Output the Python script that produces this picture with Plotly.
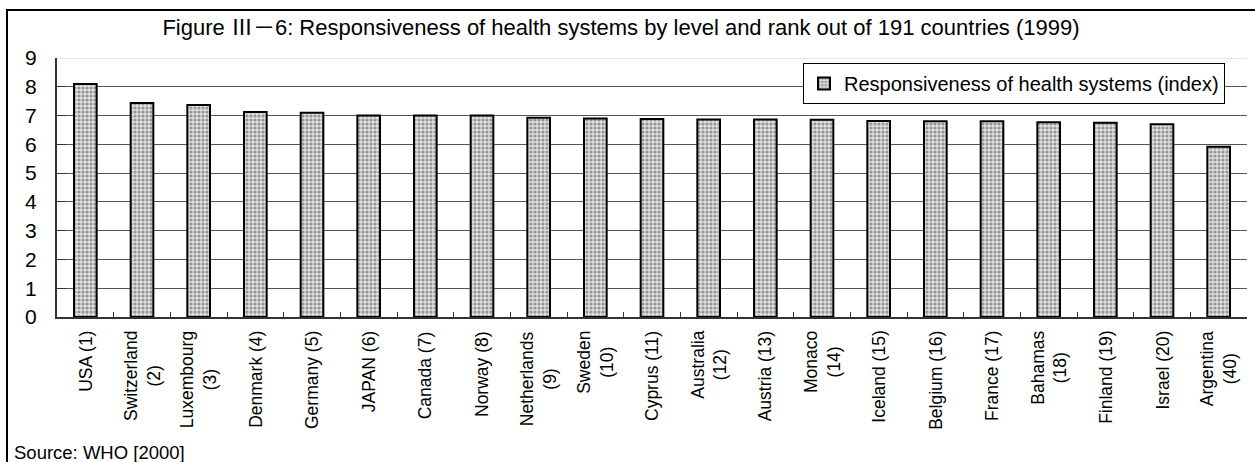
import plotly.graph_objects as go

# Countries with their responsiveness rank (out of 191)
countries = ["USA", "Switzerland", "Luxembourg", "Denmark", "Germany", "JAPAN",
             "Canada", "Norway", "Netherlands", "Sweden", "Cyprus", "Australia",
             "Austria", "Monaco", "Iceland", "Belgium", "France", "Bahamas",
             "Finland", "Israel", "Argentina"]
ranks = [1, 2, 3, 4, 5, 6, 7, 8, 9, 10, 11, 12, 13, 14, 15, 16, 17, 18, 19, 20, 40]
# Responsiveness index level
index_values = [8.10, 7.44, 7.37, 7.12, 7.10, 7.00, 7.00, 7.00, 6.92, 6.90, 6.88,
                6.86, 6.86, 6.85, 6.81, 6.80, 6.80, 6.77, 6.75, 6.70, 5.92]
# Axis tick labels (two-line where the name is long)
tick_labels = ["USA (1)", "Switzerland<br>(2)", "Luxembourg<br>(3)", "Denmark (4)",
               "Germany (5)", "JAPAN (6)", "Canada (7)", "Norway (8)",
               "Netherlands<br>(9)", "Sweden<br>(10)", "Cyprus (11)",
               "Australia<br>(12)", "Austria (13)", "Monaco<br>(14)", "Iceland (15)",
               "Belgium (16)", "France (17)", "Bahamas<br>(18)", "Finland (19)",
               "Israel (20)", "Argentina<br>(40)"]
y_ticks = list(range(0, 10))

FONT = "Liberation Sans, Arial, Noto Sans CJK JP, sans-serif"

W, H = 1255, 462
L, R, T, B = 57, 8, 58, 145
pw, ph = W - L - R, H - T - B


def px_x(x):
    return (x - L) / pw


def px_y(y):
    return (H - B - y) / ph


fig = go.Figure()
fig.add_trace(go.Bar(
    x=countries,
    y=index_values,
    name="Responsiveness of health systems (index)",
    marker=dict(
        color="#e0e0e0",
        line=dict(color="black", width=2),
        pattern=dict(shape=".", fgcolor="#4a4a4a", bgcolor="#e0e0e0",
                     size=4, solidity=0.5),
    ),
))

annotations = []
for c, lab in zip(countries, tick_labels):
    annotations.append(dict(
        x=c, xref="x", y=0, yref="paper", yanchor="top", xanchor="center",
        yshift=-12, text=lab, textangle=-90, align="center", showarrow=False,
        font=dict(family=FONT, size=17.5, color="black"),
    ))
annotations.append(dict(
    x=px_x(12), xref="paper", y=px_y(452), yref="paper", xanchor="left",
    yanchor="middle", text="Source: WHO [2000]", showarrow=False,
    font=dict(family=FONT, size=18.5, color="black"),
))

shapes = [
    # outer frame
    dict(type="rect", xref="paper", yref="paper",
         x0=px_x(7), x1=px_x(W + 5), y0=px_y(H + 5), y1=px_y(10),
         line=dict(color="black", width=2), layer="above"),
    # light top line of the plot area
    dict(type="line", xref="paper", yref="y", x0=0, x1=1, y0=9, y1=9,
         line=dict(color="#d0d0d0", width=1), layer="between"),
]

fig.update_layout(
    width=W, height=H,
    margin=dict(l=L, r=R, t=T, b=B, pad=0),
    paper_bgcolor="white", plot_bgcolor="white",
    bargap=0.6,
    showlegend=True,
    title=dict(
        text="Figure Ⅲ－6: Responsiveness of health systems by level and rank out of 191 countries (1999)",
        x=621 / W, xanchor="center", xref="container",
        y=1 - 27 / H, yanchor="middle", yref="container",
        font=dict(family=FONT, size=22, color="black"),
    ),
    legend=dict(
        x=px_x(1225), xanchor="right", y=px_y(63), yanchor="top",
        bgcolor="white", bordercolor="black", borderwidth=1,
        font=dict(family=FONT, size=20, color="black"),
    ),
    xaxis=dict(
        showticklabels=False, showgrid=False,
        showline=True, linecolor="#333333", linewidth=2,
        ticks="inside", ticklen=5, tickcolor="#333333", tickson="boundaries",
    ),
    yaxis=dict(
        range=[0, 9], tickvals=y_ticks,
        showgrid=True, gridcolor="#555555", gridwidth=1,
        showline=True, linecolor="#333333", linewidth=2,
        ticks="inside", ticklen=9, tickcolor="#333333",
        ticklabelstandoff=14, zeroline=False,
        tickfont=dict(family=FONT, size=21, color="black"),
    ),
    annotations=annotations,
    shapes=shapes,
)

fig.write_html("out.html")
